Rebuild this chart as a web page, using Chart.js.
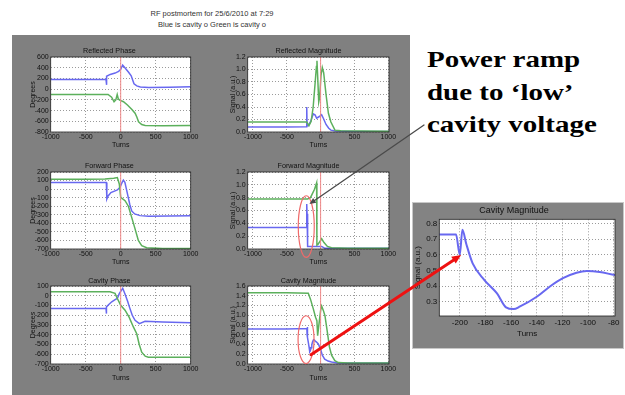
<!DOCTYPE html>
<html><head><meta charset="utf-8">
<script src="https://cdn.jsdelivr.net/npm/chart.js@4.4.0/dist/chart.umd.min.js"></script>
<style>
body{margin:0;width:625px;height:395px;background:#fff;position:relative;overflow:hidden;font-family:"Liberation Sans",Arial,sans-serif}
#panel{position:absolute;left:12px;top:35px;width:398px;height:360px;background:#808080}
#inset{position:absolute;left:412px;top:202px;width:210px;height:145px;background:#838383;border:1px solid #c8c8c8}
.hdr{position:absolute;left:0;width:424px;text-align:center;font-size:7.5px;line-height:9px;color:#333}
canvas{position:absolute}
#note{position:absolute;left:427px;top:44px;font:bold 23px "Liberation Serif","Times New Roman",serif;line-height:32.5px;transform:scaleX(1.26);transform-origin:0 0;white-space:nowrap;color:#000}
#overlay{z-index:5;pointer-events:none}
</style></head>
<body>
<div id="panel"></div>
<div id="inset"></div>
<div class="hdr" style="top:9px">RF postmortem for 25/6/2010 at 7:29</div>
<div class="hdr" style="top:19.5px">Blue is cavity o Green is cavity o</div>
<div id="note">Power ramp<br>due to ‘low’<br>cavity voltage</div>
<canvas id="overlay" width="625" height="395" style="left:0;top:0"></canvas>
<script>
// tick labels
const turnTicks=[-1000,-500,0,500,1000];
const reflPhaseTicks=[-800,-600,-400,-200,0,200,400,600];
const fwdPhaseTicks=[-700,-600,-500,-400,-300,-200,-100,0,100,200];
const cavPhaseTicks=[-700,-600,-500,-400,-300,-200,-100,0,100];
const magTicks12=[0,0.2,0.4,0.6,0.8,1.0,1.2];
const magTicks16=[0,0.2,0.4,0.6,0.8,1.0,1.2,1.4,1.6];
const zoomTurnTicks=[-200,-180,-160,-140,-120,-100,-80];
const zoomSignalTicks=[0.3,0.4,0.5,0.6,0.7,0.8];
const phaseTurnRange=[-1000,1000];
const magTurnRange=[-1077,1010];
const zoomTurnRange=[-216,-79];
const zoomSignalRange=[0.209,0.826];
const triggerTurn=[0];

// [turns, value]
const reflPhaseBlue=[[-1000,180],[-600,178],[-210,180],[-205,80],[-198,240],[-150,275],[-80,300],[-30,330],[0,370],[28,450],[60,400],[110,320],[150,250],[190,100],[230,60],[280,40],[400,30],[700,35],[1000,45]];
const reflPhaseGreen=[[-1000,-98],[-500,-100],[-180,-100],[-130,-150],[-95,-235],[-70,-200],[-50,-100],[-35,-180],[-15,-205],[40,-235],[100,-300],[160,-380],[205,-450],[230,-520],[255,-610],[300,-660],[350,-678],[600,-683],[1000,-678]];
const reflMagBlue=[[-1077,0.08],[-500,0.08],[-208,0.085],[-205,0.40],[-200,0.10],[-185,0.10],[-150,0.16],[-108,0.29],[-80,0.27],[-59,0.22],[-30,0.24],[0,0.26],[15,0.275],[40,0.22],[80,0.12],[120,0.06],[152,0.03],[220,0.015],[500,0.01],[1010,0.01]];
const reflMagGreen=[[-1077,0.16],[-500,0.16],[-205,0.16],[-172,0.10],[-140,0.17],[-110,0.4],[-80,0.8],[-62,1.05],[-54,1.14],[-42,0.85],[-28,0.48],[-15,0.55],[5,0.9],[25,1.03],[45,0.95],[80,0.6],[115,0.3],[152,0.16],[211,0.03],[300,0.02],[600,0.015],[1010,0.01]];
const fwdPhaseBlue=[[-1000,78],[-500,78],[-205,78],[-198,-115],[-180,-80],[-140,-40],[-80,-20],[-48,-10],[-10,20],[15,70],[38,105],[60,80],[95,-50],[130,-180],[157,-255],[200,-290],[276,-310],[400,-318],[700,-315],[1000,-310]];
const fwdPhaseGreen=[[-1000,115],[-500,115],[-224,118],[-100,128],[-48,135],[-20,60],[0,-95],[62,-135],[110,-200],[157,-330],[200,-450],[252,-600],[300,-660],[371,-686],[600,-695],[1000,-695]];
const fwdMagBlue=[[-1077,0.335],[-500,0.335],[-207,0.335],[-205,0.70],[-200,0.55],[-192,0.04],[-100,0.04],[0,0.04],[15,0.04],[64,0.01],[1010,0.01]];
const fwdMagGreen=[[-1077,0.78],[-500,0.78],[-192,0.78],[-150,0.80],[-123,0.86],[-90,0.93],[-59,1.03],[-55,0.06],[-40,0.07],[-10,0.12],[15,0.16],[50,0.10],[100,0.04],[162,0.02],[400,0.01],[1010,0.01]];
const cavPhaseBlue=[[-1000,-131],[-500,-131],[-210,-131],[-207,-183],[-200,-114],[-170,-90],[-128,-62],[-80,-40],[-48,-28],[-19,24],[29,76],[60,20],[100,-60],[124,-114],[165,-200],[205,-252],[267,-286],[348,-262],[600,-268],[1000,-276]];
const cavPhaseGreen=[[-1000,41],[-500,41],[-152,41],[-81,24],[-48,-28],[0,-97],[62,-148],[120,-220],[181,-320],[229,-390],[265,-500],[300,-579],[350,-620],[395,-631],[700,-631],[1000,-630]];
const cavMagBlue=[[-1077,0.72],[-500,0.72],[-203,0.73],[-200,0.60],[-198,0.76],[-195,0.67],[-190,0.545],[-181,0.44],[-171,0.353],[-164,0.264],[-158,0.253],[-153,0.27],[-140,0.332],[-130,0.396],[-120,0.449],[-109,0.485],[-101,0.496],[-91,0.49],[-79,0.47],[-60,0.45],[-34,0.41],[0,0.30],[25,0.18],[60,0.10],[110,0.06],[162,0.04],[250,0.02],[1010,0.02]];
const cavMagGreen=[[-1077,1.46],[-500,1.46],[-182,1.45],[-150,1.33],[-108,1.13],[-75,0.96],[-55,0.89],[-44,0.58],[-30,0.75],[0,1.10],[15,1.19],[40,1.10],[64,0.99],[100,0.65],[130,0.35],[162,0.18],[210,0.07],[261,0.03],[400,0.02],[1010,0.02]];

// annotation anchors: [turns, signal, half width turns, half height signal]
const fwdRing=[-212,0.35,118,0.48];
const cavRing=[-215,0.50,118,0.49];
const grayArrowTip=[-165,0.70];
const redArrowFrom=[-143,0.19];
const redArrowTo=[-199,0.598];

const FONT='"Liberation Sans", Arial, sans-serif';
const BLUE='#6868f0', GREEN='#5cb05c', RED='#f08a8a';

const frame={id:'frame',
  beforeDraw(c){const a=c.chartArea,x=c.ctx;x.save();x.fillStyle='#fff';x.fillRect(a.left,a.top,a.width,a.height);x.restore();},
  afterDraw(c){const a=c.chartArea,x=c.ctx;x.save();x.strokeStyle='#222';x.lineWidth=0.8;x.strokeRect(a.left,a.top,a.width,a.height);x.restore();}
};

function panel(o){
  const tf=o.tf||7.2, af=o.af||7, lhT=9, lhA=af*1.2;
  const left=Math.floor(o.ytx-5), top=Math.floor(o.ty-6);
  const yw=o.area.l-left, th=o.area.t-top;
  const xh=o.tx-o.area.b+lhA/2;
  const w=Math.ceil(o.area.r-left+12), h=Math.ceil(o.area.b-top+xh+1);
  const cv=document.createElement('canvas');
  cv.width=w;cv.height=h;cv.style.left=left+'px';cv.style.top=top+'px';
  document.body.appendChild(cv);
  const ds=[];
  if(o.trigger){
    triggerTurn.forEach(t=>ds.push({data:[{x:t,y:o.yr[0]},{x:t,y:o.yr[1]}],borderColor:RED,borderWidth:1,order:0}));
  }
  o.series.forEach((s,i)=>ds.push({data:s.data.map(p=>({x:p[0],y:p[1]})),borderColor:s.color,borderWidth:o.lw||1.5,order:3-i,
    cubicInterpolationMode:o.smooth?'monotone':'default',tension:o.smooth?0.4:0}));
  const fmt=o.fmt||(v=>String(v));
  const tickFont={family:FONT,size:af,lineHeight:1.2};
  const ch=new Chart(cv,{type:'line',
    data:{datasets:ds.map(d=>Object.assign({pointRadius:0,fill:false},d))},
    options:{responsive:false,animation:false,devicePixelRatio:1,
      layout:{padding:{left:0,top:0,right:w-(o.area.r-left),bottom:h-(o.area.b-top)-xh}},
      plugins:{legend:{display:false},tooltip:{enabled:false},
        title:{display:true,text:o.title,color:'#111',font:{family:FONT,size:tf,weight:'normal',lineHeight:lhT/tf},
          padding:{top:o.ty-top-lhT/2,bottom:th-(o.ty-top-lhT/2)-lhT}}},
      scales:{
        x:{type:'linear',min:o.xr[0],max:o.xr[1],
          afterFit(s){s.height=xh;},
          afterBuildTicks(s){s.ticks=o.xt.map(v=>({value:v}));},
          border:{display:false,dash:[1,2]},grid:{color:'#9a9a9a',drawTicks:false},
          ticks:{autoSkip:false,maxRotation:0,padding:o.tp||1,color:'#111',font:tickFont,callback:v=>String(v)},
          title:{display:true,text:'Turns',color:'#111',font:tickFont,padding:0}},
        y:{type:'linear',min:o.yr[0],max:o.yr[1],
          afterFit(s){s.width=yw;},
          afterBuildTicks(s){s.ticks=o.yt.map(v=>({value:v}));},
          border:{display:false,dash:[1,2]},grid:{color:'#9a9a9a',drawTicks:false},
          ticks:{autoSkip:false,padding:2,color:'#111',font:tickFont,callback:fmt},
          title:{display:true,text:o.ylab,color:'#111',font:tickFont,padding:{top:Math.max(0,o.ytx-left-lhA/2),bottom:0}}}
      }},
    plugins:[frame]});
  return {ch,left,top};
}

const mag=v=>v.toFixed(1);
const L={l:50.7,r:190.7}, R={l:247.7,r:389};
const rows=[{t:57,b:132,ty:51.5,tx:145.5},{t:172,b:249,ty:166,tx:262.5},{t:286,b:364,ty:281,tx:378}];

panel({title:'Reflected Phase',ylab:'Degrees',area:{...L,t:rows[0].t,b:rows[0].b},ty:rows[0].ty,tx:rows[0].tx,ytx:33.3,
  xr:phaseTurnRange,xt:turnTicks,yr:[-800,600],yt:reflPhaseTicks,trigger:true,series:[{data:reflPhaseBlue,color:BLUE},{data:reflPhaseGreen,color:GREEN}]});
panel({title:'Reflected Magnitude',ylab:'Signal (a.u.)',area:{...R,t:rows[0].t,b:rows[0].b},ty:rows[0].ty,tx:rows[0].tx,ytx:233,
  xr:magTurnRange,xt:turnTicks,yr:[0,1.2],yt:magTicks12,fmt:mag,trigger:true,series:[{data:reflMagBlue,color:BLUE},{data:reflMagGreen,color:GREEN}]});
panel({title:'Forward Phase',ylab:'Degrees',area:{...L,t:rows[1].t,b:rows[1].b},ty:rows[1].ty,tx:rows[1].tx,ytx:33.3,
  xr:phaseTurnRange,xt:turnTicks,yr:[-700,200],yt:fwdPhaseTicks,trigger:true,series:[{data:fwdPhaseBlue,color:BLUE},{data:fwdPhaseGreen,color:GREEN}]});
const fm=panel({title:'Forward Magnitude',ylab:'Signal (a.u.)',area:{...R,t:rows[1].t,b:rows[1].b},ty:rows[1].ty,tx:rows[1].tx,ytx:233,
  xr:magTurnRange,xt:turnTicks,yr:[0,1.2],yt:magTicks12,fmt:mag,trigger:true,series:[{data:fwdMagBlue,color:BLUE},{data:fwdMagGreen,color:GREEN}]});
panel({title:'Cavity Phase',ylab:'Degrees',area:{...L,t:rows[2].t,b:rows[2].b},ty:rows[2].ty,tx:rows[2].tx,ytx:33.3,
  xr:phaseTurnRange,xt:turnTicks,yr:[-700,100],yt:cavPhaseTicks,trigger:true,series:[{data:cavPhaseBlue,color:BLUE},{data:cavPhaseGreen,color:GREEN}]});
const cm=panel({title:'Cavity Magnitude',ylab:'Signal (a.u.)',area:{...R,t:rows[2].t,b:rows[2].b},ty:rows[2].ty,tx:rows[2].tx,ytx:233,
  xr:magTurnRange,xt:turnTicks,yr:[0,1.6],yt:magTicks16,fmt:mag,trigger:true,series:[{data:cavMagBlue,color:BLUE},{data:cavMagGreen,color:GREEN}]});
const zm=panel({title:'Cavity Magnitude',ylab:'Signal (a.u.)',area:{l:439.3,t:219.3,r:615,b:316},ty:210.7,tx:334,ytx:418,tf:9,af:8,tp:2,lw:2,smooth:true,
  xr:zoomTurnRange,xt:zoomTurnTicks,yr:zoomSignalRange,yt:zoomSignalTicks,fmt:mag,series:[{data:cavMagBlue,color:BLUE}]});

// annotations
function pt(p,x,y){return [p.left+p.ch.scales.x.getPixelForValue(x),p.top+p.ch.scales.y.getPixelForValue(y)];}
const ctx=document.getElementById('overlay').getContext('2d');
function ring(p,r){
  const c=pt(p,r[0],r[1]), e=pt(p,r[0]+r[2],r[1]+r[3]);
  ctx.save();ctx.strokeStyle='#f06a6a';ctx.lineWidth=1.2;ctx.beginPath();
  ctx.ellipse(c[0],c[1],Math.abs(e[0]-c[0]),Math.abs(e[1]-c[1]),0,0,Math.PI*2);ctx.stroke();ctx.restore();
}
function arrow(a,b,color,lw,head){
  const ang=Math.atan2(b[1]-a[1],b[0]-a[0]);
  ctx.save();ctx.strokeStyle=color;ctx.fillStyle=color;ctx.lineWidth=lw;ctx.lineCap='round';
  ctx.beginPath();ctx.moveTo(a[0],a[1]);ctx.lineTo(b[0]-Math.cos(ang)*head*0.7,b[1]-Math.sin(ang)*head*0.7);ctx.stroke();
  ctx.beginPath();ctx.moveTo(b[0],b[1]);
  ctx.lineTo(b[0]-head*Math.cos(ang-0.42),b[1]-head*Math.sin(ang-0.42));
  ctx.lineTo(b[0]-head*Math.cos(ang+0.42),b[1]-head*Math.sin(ang+0.42));
  ctx.closePath();ctx.fill();ctx.restore();
}
ring(fm,fwdRing);
ring(cm,cavRing);
arrow([424,125],pt(fm,grayArrowTip[0],grayArrowTip[1]),'#4a4a4a',1.3,7);
arrow(pt(cm,redArrowFrom[0],redArrowFrom[1]),pt(zm,redArrowTo[0],redArrowTo[1]),'#ee1111',3,10);
</script>
</body></html>
